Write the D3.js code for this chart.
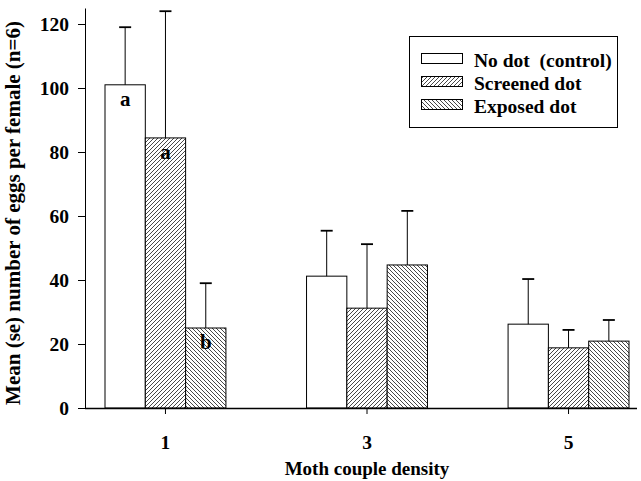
<!DOCTYPE html>
<html>
<head>
<meta charset="utf-8">
<script src="https://cdn.jsdelivr.net/npm/d3@7"></script>
<style>
  html, body { margin: 0; padding: 0; background: #fff; }
  svg { display: block; }
  text { font-family: "Liberation Serif", "Times New Roman", serif; font-weight: bold; fill: #000; white-space: pre; }
</style>
</head>
<body>
<script>
// ---- data ----
const densities = ["1", "3", "5"];
const seriesNames = ["No dot  (control)", "Screened dot", "Exposed dot"];
const seriesKeys = ["noDot", "screened", "exposed"];
const noDotMean = [101, 41.2, 26.2];
const noDotSe = [18, 14.2, 14.1];
const screenedMean = [84.4, 31.2, 18.8];
const screenedSe = [39.6, 20, 5.6];
const exposedMean = [25, 44.7, 20.9];
const exposedSe = [14, 16.9, 6.6];
const letters = [["a", "a", "b"], [null, null, null], [null, null, null]]; // per density, per series
const yTicks = [0, 20, 40, 60, 80, 100, 120];

const means = { noDot: noDotMean, screened: screenedMean, exposed: exposedMean };
const ses = { noDot: noDotSe, screened: screenedSe, exposed: exposedSe };
const rows = [];
densities.forEach((d, i) => {
  seriesKeys.forEach((k, j) => {
    rows.push({ density: d, key: k, mean: means[k][i], se: ses[k][i], letter: letters[i][j] });
  });
});

const W = 641, H = 481;
const FONT = "Liberation Serif";
const svg = d3.select("body").append("svg").attr("width", W).attr("height", H);

const defs = svg.append("defs");
function hatch(id, dir) {
  const s = 4;
  const p = defs.append("pattern").attr("id", id).attr("patternUnits", "userSpaceOnUse")
    .attr("width", s).attr("height", s);
  p.append("rect").attr("width", s).attr("height", s).attr("fill", "#fff");
  const dPath = dir === "up"
    ? `M0,${s} L${s},0 M-1,1 L1,-1 M${s - 1},${s + 1} L${s + 1},${s - 1}`
    : `M0,0 L${s},${s} M-1,${s - 1} L1,${s + 1} M${s - 1},-1 L${s + 1},1`;
  p.append("path").attr("d", dPath).attr("stroke", "#333").attr("stroke-width", 0.9);
}
hatch("hUp", "up");
hatch("hDown", "down");
const fills = { noDot: "#fff", screened: "url(#hUp)", exposed: "url(#hDown)" };

// ---- scales ----
const axisLeftX = 85, baseY = 408;
const x = d3.scaleBand().domain(densities).range([105, 629]).paddingInner(0.4).paddingOuter(0);
const xs = d3.scaleBand().domain(seriesKeys).range([0, x.bandwidth()]).padding(0);
const y = d3.scaleLinear().domain([0, 125]).range([baseY, 8]);

// ---- bars ----
const g = svg.append("g");
g.selectAll("rect.bar").data(rows).join("rect")
  .attr("class", "bar")
  .attr("x", d => x(d.density) + xs(d.key))
  .attr("y", d => y(d.mean))
  .attr("width", xs.bandwidth())
  .attr("height", d => y(0) - y(d.mean))
  .attr("fill", d => fills[d.key])
  .attr("stroke", "#000").attr("stroke-width", 1);

// error bars (upper only)
const cx = d => x(d.density) + xs(d.key) + xs.bandwidth() / 2;
g.selectAll("line.err").data(rows).join("line")
  .attr("x1", cx).attr("x2", cx)
  .attr("y1", d => y(d.mean)).attr("y2", d => y(d.mean + d.se))
  .attr("stroke", "#000").attr("stroke-width", 1);
g.selectAll("line.cap").data(rows).join("line")
  .attr("x1", d => cx(d) - 6).attr("x2", d => cx(d) + 6)
  .attr("y1", d => y(d.mean + d.se)).attr("y2", d => y(d.mean + d.se))
  .attr("stroke", "#000").attr("stroke-width", 1.8);

// letters
g.selectAll("text.letter").data(rows.filter(d => d.letter)).join("text")
  .attr("class", "letter")
  .attr("x", cx)
  .attr("y", d => y(d.mean) + 21)
  .attr("text-anchor", "middle")
  .attr("font-family", FONT)
  .style("font-size", "21px")
  .text(d => d.letter);

// ---- axes ----
const yAxis = d3.axisLeft(y).tickValues(yTicks).tickSize(7).tickSizeOuter(0).tickPadding(9);
const ya = svg.append("g").attr("transform", `translate(${axisLeftX},0)`).call(yAxis);
ya.attr("font-family", FONT);
ya.selectAll("text").style("font-size", "19.5px").style("font-family", FONT).style("font-weight", "bold");
ya.selectAll("line, path").attr("stroke", "#000");

// x axis line
svg.append("line").attr("x1", axisLeftX).attr("x2", 637).attr("y1", baseY + 0.5).attr("y2", baseY + 0.5)
  .attr("stroke", "#000").attr("stroke-width", 1.5);
const xAxis = d3.axisBottom(x).tickSize(6).tickSizeOuter(0).tickPadding(21);
const xa = svg.append("g").attr("transform", `translate(0,${baseY})`).call(xAxis);
xa.attr("font-family", FONT);
xa.select(".domain").remove();
xa.selectAll("text").style("font-size", "19.5px").style("font-family", FONT).style("font-weight", "bold");
xa.selectAll("line").attr("stroke", "#000");

// axis titles
svg.append("text").attr("x", x("3") + x.bandwidth() / 2).attr("y", 475)
  .attr("text-anchor", "middle").attr("font-family", FONT).style("font-size", "19px").text("Moth couple density");
svg.append("text").attr("transform", "translate(20,213) rotate(-90)")
  .attr("text-anchor", "middle").attr("font-family", FONT).style("font-size", "21px")
  .text("Mean (se) number of eggs per female (n=6)");

// ---- legend ----
const lg = svg.append("g");
lg.append("rect").attr("x", 409.5).attr("y", 36.5).attr("width", 208).attr("height", 91)
  .attr("fill", "#fff").attr("stroke", "#000").attr("stroke-width", 1);
seriesKeys.forEach((k, i) => {
  const yy = 53 + i * 23;
  lg.append("rect").attr("x", 421.5).attr("y", yy + 0.5).attr("width", 41).attr("height", 10)
    .attr("fill", fills[k]).attr("stroke", "#000").attr("stroke-width", 1);
  lg.append("text").attr("x", 474).attr("y", yy + 14).attr("font-family", FONT)
    .attr("xml:space", "preserve").style("font-size", "19.5px").text(seriesNames[i]);
});
</script>
</body>
</html>
